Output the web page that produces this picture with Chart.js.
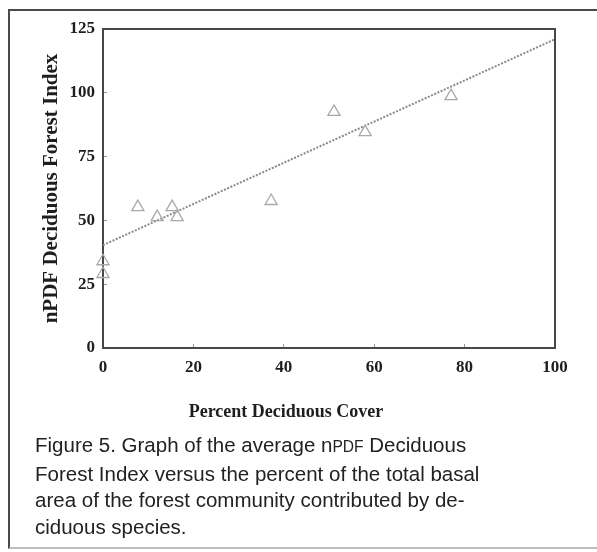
<!DOCTYPE html>
<html>
<head>
<meta charset="utf-8">
<script src="https://cdn.jsdelivr.net/npm/chart.js@4.4.1/dist/chart.umd.min.js"></script>
<style>
  html, body { margin: 0; padding: 0; background: #fff; }
  body { width: 597px; height: 552px; position: relative; overflow: hidden; }
  #frame {
    position: absolute; left: 8px; top: 9px; width: 620px; height: 536px;
    border-top: 2px solid #4a4a4a; border-left: 2px solid #4a4a4a;
    border-bottom: 2px solid #bdbdbd; border-right: 2px solid #4a4a4a;
  }
  #wrap { position: absolute; left: 0; top: 0; width: 597px; height: 552px; }
  #xtitle {
    position: absolute; left: 0; width: 572px; top: 402px; text-align: center;
    font: bold 18px/18px "Liberation Serif", "Times New Roman", serif; color: #1e1e1e;
  }
  #caption {
    position: absolute; left: 35px; top: 432px;
    font: 20.5px/26.7px "Liberation Sans", Arial, sans-serif; color: #222;
    white-space: nowrap;
  }
  #caption .sc { font-size: 0.76em; }
</style>
</head>
<body>
<div id="frame"></div>
<div id="wrap"><canvas id="chart"></canvas></div>
<div id="xtitle">Percent Deciduous Cover</div>
<div id="caption">
  <div>Figure 5. Graph of the average n<span class="sc">PDF</span> Deciduous</div>
  <div>Forest Index versus the percent of the total basal</div>
  <div>area of the forest community contributed by de-</div>
  <div>ciduous species.</div>
</div>
<script>
// Site observations: percent deciduous basal area vs. average nPDF index
const percentDeciduous = [0, 0, 7.7, 12, 15.3, 16.4, 37.2, 51.1, 58, 77];
const deciduousIndex   = [29, 34, 55.2, 51.3, 55.2, 51.3, 57.6, 92.5, 84.6, 98.7];

// Fitted trend line end points
const trendX = [0, 100];
const trendY = [40.3, 121];

// Axis ticks
const xTicks = [0, 20, 40, 60, 80, 100];
const yTicks = [0, 25, 50, 75, 100, 125];

const serif = '"Liberation Serif", "Times New Roman", serif';

// Closes the plot box on the top and right sides
const plotFrame = {
  id: 'plotFrame',
  afterDatasetsDraw(chart) {
    const { ctx, chartArea: a } = chart;
    ctx.save();
    ctx.strokeStyle = '#474747';
    ctx.lineWidth = 2;
    ctx.beginPath();
    ctx.moveTo(a.left, a.top);
    ctx.lineTo(a.right, a.top);
    ctx.lineTo(a.right, a.bottom);
    ctx.stroke();
    ctx.restore();
  }
};

new Chart(document.getElementById('chart'), {
  type: 'scatter',
  data: {
    datasets: [
      {
        label: 'Trend',
        data: trendX.map((x, i) => ({ x, y: trendY[i] })),
        showLine: true,
        borderColor: '#8a8a8a',
        borderWidth: 2,
        borderDash: [2, 1.5],
        pointRadius: 0,
        fill: false,
        order: 2
      },
      {
        label: 'Sites',
        data: percentDeciduous.map((x, i) => ({ x, y: deciduousIndex[i] })),
        pointStyle: 'triangle',
        pointRadius: 7,
        pointBorderWidth: 1.3,
        pointBorderColor: '#a9a9a9',
        pointBackgroundColor: 'rgba(255,255,255,0)',
        clip: false,
        order: 1
      }
    ]
  },
  options: {
    responsive: true,
    maintainAspectRatio: false,
    animation: false,
    layout: { padding: { left: 0, top: 29, right: 42, bottom: 0 } },
    plugins: { legend: { display: false }, tooltip: { enabled: false } },
    scales: {
      x: {
        type: 'linear',
        min: 0, max: 100,
        afterBuildTicks: s => { s.ticks = xTicks.map(v => ({ value: v })); },
        afterFit: s => { s.height = 552 - 348; },
        border: { display: true, color: '#474747', width: 2 },
        grid: { drawOnChartArea: false, drawTicks: true, tickLength: -4, color: '#9a9a9a', lineWidth: 1 },
        ticks: { padding: 13, color: '#1e1e1e', font: { family: serif, size: 17, weight: 'bold' }, maxRotation: 0 }
      },
      y: {
        type: 'linear',
        min: 0, max: 125,
        afterBuildTicks: s => { s.ticks = yTicks.map(v => ({ value: v })); },
        afterFit: s => { s.width = 103; },
        border: { display: true, color: '#474747', width: 2 },
        grid: { drawOnChartArea: false, drawTicks: true, tickLength: -4, color: '#9a9a9a', lineWidth: 1 },
        ticks: { padding: 12, color: '#1e1e1e', font: { family: serif, size: 17, weight: 'bold' } },
        title: {
          display: true,
          text: 'nPDF Deciduous Forest Index',
          color: '#1e1e1e',
          font: { family: serif, size: 21, weight: 'bold' },
          padding: { top: 39, bottom: 0 }
        }
      }
    }
  },
  plugins: [plotFrame]
});
</script>
</body>
</html>
